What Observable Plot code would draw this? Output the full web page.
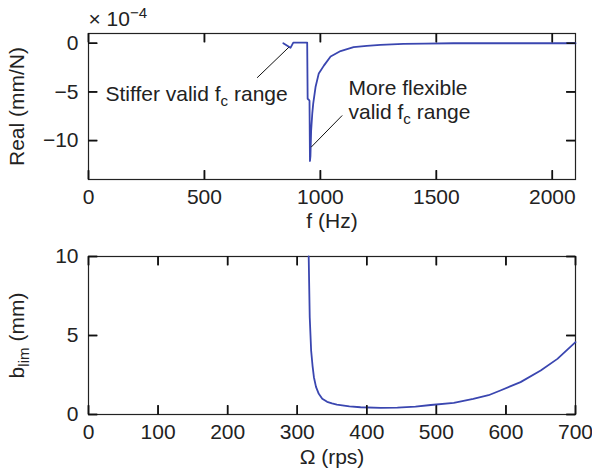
<!DOCTYPE html>
<html><head><meta charset="utf-8">
<script src="https://cdn.jsdelivr.net/npm/d3@7"></script>
<script src="https://cdn.jsdelivr.net/npm/@observablehq/plot@0.6"></script>
<style>
html,body{margin:0;padding:0;background:#fff;}
#chart svg{display:block;}
</style></head><body><div id="chart"></div>
<script>
// Top panel: real part of FRF (x 1e-4 mm/N) vs frequency (Hz)
const freqHz = [840, 871, 883, 943, 945, 950, 953, 955, 957, 960, 965, 969, 979, 993, 1015, 1044, 1087, 1143, 1200, 1259, 1358, 1450, 1574, 1800, 2100];
const realE4 = [0, -0.47, 0.07, 0.07, -5.7, -5.8, -5.9, -12.1, -11.6, -9.0, -7.2, -6.2, -4.5, -3.1, -2.3, -1.36, -0.8, -0.41, -0.27, -0.16, -0.06, -0.03, 0, 0, 0];
// Bottom panel: limiting depth of cut (mm) vs spindle speed (rps)
const omegaRps = [316.5, 318, 320, 322, 324, 327, 331, 336, 343, 350, 357, 375, 391, 420, 444, 470, 492, 525, 553, 575, 592, 621, 650, 674, 700];
const bLimMm = [10, 6.16, 4.05, 3.1, 2.36, 1.75, 1.31, 1.0, 0.8, 0.7, 0.63, 0.52, 0.46, 0.42, 0.44, 0.5, 0.6, 0.74, 0.99, 1.22, 1.52, 2.05, 2.78, 3.52, 4.58];

const fTicks = [0, 500, 1000, 1500, 2000];
const realTicks = [0, -5, -10];
const omegaTicks = [0, 100, 200, 300, 400, 500, 600, 700];
const bTicks = [0, 5, 10];

const noteTexts = ["Stiffer valid f_{c} range", "More flexible", "valid f_{c} range"];
const noteX = [73, 1121, 1121];
const noteY = [-5.23, -4.61, -7.07];
const leaderX1 = [727, 1094];
const leaderY1 = [-3.55, -7.42];
const leaderX2 = [864, 960];
const leaderY2 = [-0.41, -10.68];

const topData = freqHz.map((f, i) => ({f, v: realE4[i]}));
const botData = omegaRps.map((w, i) => ({w, b: bLimMm[i]}));
const notes = noteTexts.map((t, i) => ({t, x: noteX[i], y: noteY[i]}));
const leaders = leaderX1.map((x1, i) => ({x1, y1: leaderY1[i], x2: leaderX2[i], y2: leaderY2[i]}));

const FONT = "'Liberation Sans', Arial, Helvetica, sans-serif";
const style = {fontFamily: FONT, fontSize: "21px", color: "#222", background: "#fff", overflow: "visible"};
const lineColor = "#3a46b0";
const W = 592, ML = 88, MR = 17, TICK = 9;
const fmt = d3.format("d");

// Inward tick segments (MATLAB-style box) as {x1,y1,x2,y2} records, in data units
function tickSegments(xt, yt, xDom, yDom, frameH) {
  const frameW = W - ML - MR;
  const dx = TICK * (xDom[1] - xDom[0]) / frameW;
  const dy = TICK * (yDom[1] - yDom[0]) / frameH;
  const segs = [];
  for (const t of xt) {
    segs.push({x1: t, x2: t, y1: yDom[0], y2: yDom[0] + dy});
    segs.push({x1: t, x2: t, y1: yDom[1] - dy, y2: yDom[1]});
  }
  for (const t of yt) {
    segs.push({y1: t, y2: t, x1: xDom[0], x2: xDom[0] + dx});
    segs.push({y1: t, y2: t, x1: xDom[1] - dx, x2: xDom[1]});
  }
  return segs;
}

function boxAxes(xt, yt, frameH) {
  const frameW = W - ML - MR;
  const tk = {stroke: "#111", strokeWidth: 1.5};
  return [
    Plot.axisX(xt, {anchor: "bottom", tickSize: 0, tickPadding: 10, tickFormat: fmt, label: null}),
    Plot.axisY(yt, {anchor: "left", tickSize: 0, tickPadding: 10, tickFormat: fmt, label: null}),
    Plot.frame({stroke: "#222", strokeWidth: 1.2}),
    Plot.ruleX(xt, {x: d => d, insetTop: frameH - TICK, ...tk}),
    Plot.ruleX(xt, {x: d => d, insetBottom: frameH - TICK, ...tk}),
    Plot.ruleY(yt, {y: d => d, insetRight: frameW - TICK, ...tk}),
    Plot.ruleY(yt, {y: d => d, insetLeft: frameW - TICK, ...tk})
  ];
}

const fDom = [0, 2100], rDom = [-14, 1];
const topH = 230 - 33 - 51;
const topTicks = tickSegments(fTicks, realTicks, fDom, rDom, topH);
const topChart = Plot.plot({
  width: W, height: 230,
  marginTop: 33, marginBottom: 51, marginLeft: ML, marginRight: MR,
  style,
  x: {domain: fDom},
  y: {domain: rDom},
  marks: [
    ...boxAxes(fTicks, realTicks, topH),
    Plot.line(topData, {x: "f", y: "v", stroke: lineColor, strokeWidth: 1.8}),
    Plot.link(leaders, {x1: "x1", y1: "y1", x2: "x2", y2: "y2", stroke: "#111", strokeWidth: 1}),
    Plot.link(topTicks, {x1: "x1", y1: "y1", x2: "x2", y2: "y2", stroke: "#111", strokeWidth: 1.5}),
    Plot.text(notes, {x: "x", y: "y", text: "t", textAnchor: "start", fill: "#222"}),
    Plot.text(["f (Hz)"], {frameAnchor: "bottom", dy: 48, lineAnchor: "bottom", textAnchor: "middle", fill: "#222"}),
    Plot.text(["Real (mm/N)"], {frameAnchor: "left", dx: -71, rotate: -90, textAnchor: "middle", fill: "#222"}),
    Plot.text(["× 10^{−4}"], {frameAnchor: "top-left", dy: -8, lineAnchor: "bottom", textAnchor: "start", fill: "#222"})
  ]
});

const wDom = [0, 700], bDom = [0, 10];
const botH = 243 - 26 - 59;
const botTicks = tickSegments(omegaTicks, bTicks, wDom, bDom, botH);
const bottomChart = Plot.plot({
  width: W, height: 243,
  marginTop: 26, marginBottom: 59, marginLeft: ML, marginRight: MR,
  style,
  x: {domain: wDom},
  y: {domain: bDom},
  marks: [
    ...boxAxes(omegaTicks, bTicks, botH),
    Plot.line(botData, {x: "w", y: "b", stroke: lineColor, strokeWidth: 1.8}),
    Plot.link(botTicks, {x1: "x1", y1: "y1", x2: "x2", y2: "y2", stroke: "#111", strokeWidth: 1.5}),
    Plot.text(["Ω (rps)"], {frameAnchor: "bottom", dy: 49, lineAnchor: "bottom", textAnchor: "middle", fill: "#222"}),
    Plot.text(["b_{lim} (mm)"], {frameAnchor: "left", dx: -71, rotate: -90, textAnchor: "middle", fill: "#222"})
  ]
});

function richText(svg) {
  d3.select(svg).selectAll("text, tspan").each(function () {
    if (this.childNodes.length !== 1 || this.firstChild.nodeType !== 3) return;
    const s = this.textContent;
    if (!/[_^]\{/.test(s)) return;
    const parts = s.split(/([_^]\{[^}]*\})/);
    this.textContent = "";
    let shift = 0;
    for (const p of parts) {
      if (!p) continue;
      const m = p.match(/^([_^])\{([^}]*)\}$/);
      const t = document.createElementNS("http://www.w3.org/2000/svg", "tspan");
      if (m) {
        const d = m[1] === "_" ? 5 : -8;
        t.setAttribute("dy", d - shift);
        shift = d;
        t.setAttribute("font-size", "72%");
        t.textContent = m[2];
      } else {
        if (shift) { t.setAttribute("dy", -shift); shift = 0; }
        t.textContent = p;
      }
      this.appendChild(t);
    }
  });
}
richText(topChart);
richText(bottomChart);
document.getElementById("chart").append(topChart, bottomChart);
</script>
</body></html>
